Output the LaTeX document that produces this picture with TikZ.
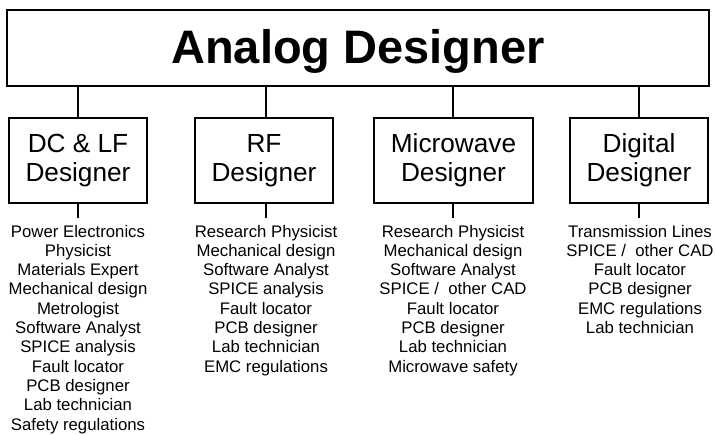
\documentclass[tikz,border=0pt]{standalone}
\usepackage{fontspec}
\setmainfont{Liberation Sans}
\begin{document}
\begin{tikzpicture}[x=1pt,y=-1pt,
  frame/.style={draw, line width=1.6pt, inner sep=0pt},
  subbox/.style={frame, minimum height=85pt, align=center,
    font=\fontsize{26.2}{29}\selectfont},
  tasks/.style={anchor=base, align=center, inner sep=0pt,
    font=\fontsize{16.75}{19.3}\selectfont},
  link/.style={line width=1.6pt}]
\useasboundingbox (0,0) rectangle (715,434);
\node[frame, minimum width=702pt, minimum height=76pt,
  font=\fontsize{47}{50}\selectfont\bfseries, text height=34pt, text depth=4pt]
  (top) at (358,48) {Analog Designer};
\node[subbox, minimum width=138pt] (dc) at (78,160.5) {DC \& LF\\Designer};
\node[subbox, minimum width=138pt] (rf) at (264,160.5) {RF\\Designer};
\node[subbox, minimum width=159pt] (mw) at (453.5,160.5) {Microwave\\Designer};
\node[subbox, minimum width=138pt] (dg) at (639,160.5) {Digital\\Designer};
\foreach \n/\x in {dc/78, rf/266, mw/453, dg/639}{
  \draw[link] (top.south -| \x,0) -- (\n.north -| \x,0);
  \coordinate (\n end) at (\x,218);
  \draw[link] (\n.south -| \x,0) -- (\n end);
}
% base anchor = baseline of the last line; first baseline at y=237, step 19.3
\node[tasks] (dcl) at (78,430) {Power Electronics\\Physicist\\Materials Expert\\Mechanical design\\Metrologist\\Software Analyst\\SPICE analysis\\Fault locator\\PCB designer\\Lab technician\\Safety regulations};
\node[tasks] (rfl) at (266,372.1) {Research Physicist\\Mechanical design\\Software Analyst\\SPICE analysis\\Fault locator\\PCB designer\\Lab technician\\EMC regulations};
\node[tasks] (mwl) at (453,372.1) {Research Physicist\\Mechanical design\\Software Analyst\\SPICE /\ \ other CAD\\Fault locator\\PCB designer\\Lab technician\\Microwave safety};
\node[tasks] (dgl) at (640,333.5) {Transmission Lines\\SPICE /\ \ other CAD\\Fault locator\\PCB designer\\EMC regulations\\Lab technician};
\end{tikzpicture}
\end{document}
